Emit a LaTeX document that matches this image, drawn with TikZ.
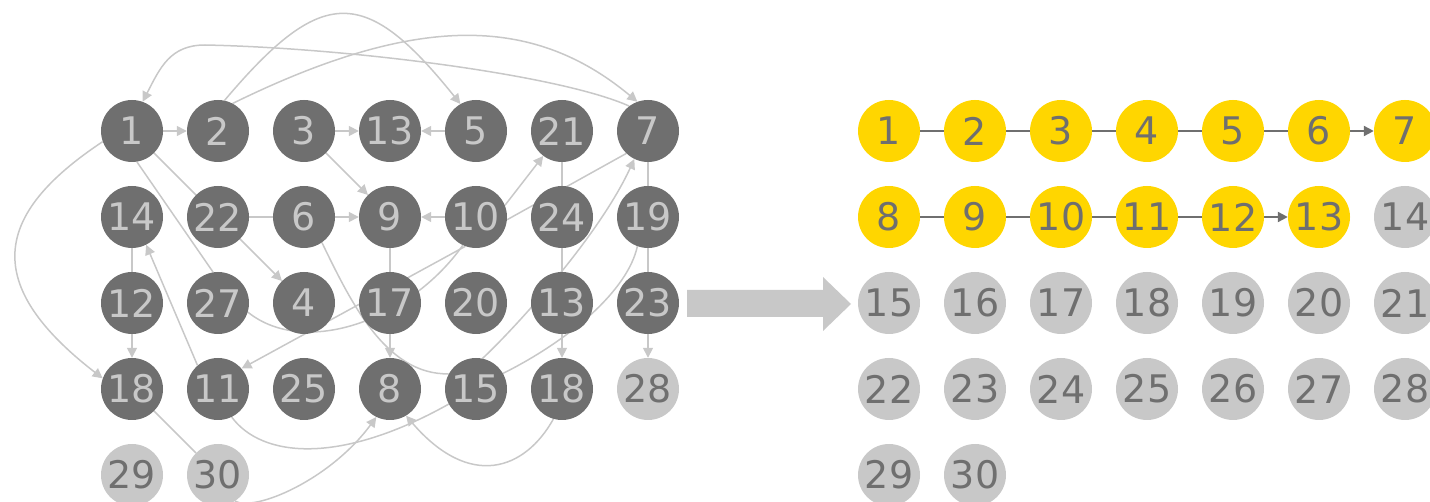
\documentclass[tikz,border=0pt]{standalone}
\usepackage{fontspec}
\setmainfont{DejaVu Sans}
\usetikzlibrary{arrows.meta,backgrounds}
\definecolor{dg}{HTML}{6F6F6F}
\definecolor{lg}{HTML}{C8C8C8}
\definecolor{yl}{HTML}{FFD600}
\begin{document}
\begin{tikzpicture}[x=1pt,y=-1pt,
  nd/.style={circle,minimum size=62pt,inner sep=0pt,font=\fontsize{38}{38}\selectfont},
  dk/.style={nd,fill=dg,text=lg},
  lt/.style={nd,fill=lg,text=dg},
  yw/.style={nd,fill=yl,text=dg},
  ed/.style={draw=lg,line width=1.5pt},
  ar/.style={ed,-{Triangle[length=10pt,width=10pt]}},
  red/.style={draw=dg,line width=2.2pt},
  rar/.style={red,-{Triangle[length=10pt,width=10pt]}}]
\useasboundingbox (0,0) rectangle (1430,502);
\clip (0,0) rectangle (1430,502);
% ---------- left graph nodes ----------
\node[dk] (a1)  at (132,131) {1};
\node[dk] (a2)  at (218,131) {2};
\node[dk] (a3)  at (304,131) {3};
\node[dk] (a13) at (390,131) {13};
\node[dk] (a5)  at (476,131) {5};
\node[dk] (a21) at (562,131) {21};
\node[dk] (a7)  at (648,131) {7};
\node[dk] (a14) at (132,217) {14};
\node[dk] (a22) at (218,217) {22};
\node[dk] (a6)  at (304,217) {6};
\node[dk] (a9)  at (390,217) {9};
\node[dk] (a10) at (476,217) {10};
\node[dk] (a24) at (562,217) {24};
\node[dk] (a19) at (648,217) {19};
\node[dk] (a12) at (132,303) {12};
\node[dk] (a27) at (218,303) {27};
\node[dk] (a4)  at (304,303) {4};
\node[dk] (a17) at (390,303) {17};
\node[dk] (a20) at (476,303) {20};
\node[dk] (a13b) at (562,303) {13};
\node[dk] (a23) at (648,303) {23};
\node[dk] (a18) at (132,389) {18};
\node[dk] (a11) at (218,389) {11};
\node[dk] (a25) at (304,389) {25};
\node[dk] (a8)  at (390,389) {8};
\node[dk] (a15) at (476,389) {15};
\node[dk] (a18b) at (562,389) {18};
\node[lt] (a28) at (648,389) {28};
\node[lt] (a29) at (132,475) {29};
\node[lt] (a30) at (218,475) {30};
% ---------- left graph edges ----------
\begin{scope}[on background layer]
\draw[ar] (a1) -- (a2);
\draw[ar] (a3) -- (a13);
\draw[ar] (a5) -- (a13);
\draw[ar] (a2.78) .. controls (322,-15) and (365,-15) .. (a5.120);
\draw[ar] (a2.62) .. controls (415,14) and (532,14) .. (a7.110);
\draw[ar] (a7.127) .. controls (560,75) and (350,48) .. (205,45) .. controls (170,45) and (160,68) .. (a1.70);
\draw[ar] (a1.200) .. controls (-8,215) and (-18,285) .. (a18.160);
\draw[ed] (a1) -- (a22);
\draw[ed] (a1.279) -- (a27.99);
\draw[ar] (a3) -- (a9);
\draw[ar] (a6) -- (a9);
\draw[ar] (a10) -- (a9);
\draw[ed] (a22) -- (a6);
\draw[ar] (a22) -- (a4);
\draw[ar] (a10.22) -- (a21.233);
\draw[ed] (a21) -- (a24);
\draw[ed] (a7.226) -- (a10.355);
\draw[ed] (a7) -- (a19);
\draw[ed] (a24) -- (a13b);
\draw[ed] (a19) -- (a23);
\draw[ar] (a15.78) .. controls (513,330) and (598,238) .. (a7.244);
\draw[ed] (a19.250) .. controls (628,290) and (570,340) .. (a15.30);
\draw[ar] (a10.250) -- (a11.41);
\draw[ed] (a10.245) .. controls (410,320) and (305,358) .. (a27.343);
\draw[ed] (a6.305) .. controls (350,300) and (385,375) .. (a15.151);
\draw[ed] (a9) -- (a17);
\draw[ar] (a17) -- (a8);
\draw[ar] (a13b) -- (a18b);
\draw[ar] (a23) -- (a28);
\draw[ed] (a14) -- (a12);
\draw[ar] (a12) -- (a18);
\draw[ar] (a11.131) -- (a14.297);
\draw[ar] (a18b.254) .. controls (525,470) and (470,490) .. (a8.301);
\draw[ed] (a11.296) .. controls (262,458) and (340,465) .. (a15.209);
\draw[ed] (a18) -- (a30);
\draw[ar] (a30.303) .. controls (255,512) and (330,480) .. (a8.244);
\end{scope}
% ---------- big arrow ----------
\fill[lg] (687,290) -- (823,290) -- (823,277) -- (851,304) -- (823,331) -- (823,317) -- (687,317) -- cycle;
% ---------- right side ----------
\node[yw] (b1) at (889,131) {1};
\node[yw] (b2) at (975,131) {2};
\node[yw] (b3) at (1061,131) {3};
\node[yw] (b4) at (1147,131) {4};
\node[yw] (b5) at (1233,131) {5};
\node[yw] (b6) at (1319,131) {6};
\node[yw] (b7) at (1405,131) {7};
\node[yw] (b8) at (889,217) {8};
\node[yw] (b9) at (975,217) {9};
\node[yw] (b10) at (1061,217) {10};
\node[yw] (b11) at (1147,217) {11};
\node[yw] (b12) at (1233,217) {12};
\node[yw] (b13) at (1319,217) {13};
\node[lt] (b14) at (1405,217) {14};
\node[lt] (b15) at (889,303) {15};
\node[lt] (b16) at (975,303) {16};
\node[lt] (b17) at (1061,303) {17};
\node[lt] (b18) at (1147,303) {18};
\node[lt] (b19) at (1233,303) {19};
\node[lt] (b20) at (1319,303) {20};
\node[lt] (b21) at (1405,303) {21};
\node[lt] (b22) at (889,389) {22};
\node[lt] (b23) at (975,389) {23};
\node[lt] (b24) at (1061,389) {24};
\node[lt] (b25) at (1147,389) {25};
\node[lt] (b26) at (1233,389) {26};
\node[lt] (b27) at (1319,389) {27};
\node[lt] (b28) at (1405,389) {28};
\node[lt] (b29) at (889,475) {29};
\node[lt] (b30) at (975,475) {30};
\begin{scope}[on background layer]
\draw[red] (b1) -- (b2);
\draw[red] (b2) -- (b3);
\draw[red] (b3) -- (b4);
\draw[red] (b4) -- (b5);
\draw[red] (b5) -- (b6);
\draw[rar] (b6) -- (b7);
\draw[red] (b8) -- (b9);
\draw[red] (b9) -- (b10);
\draw[red] (b10) -- (b11);
\draw[red] (b11) -- (b12);
\draw[rar] (b12) -- (b13);
\end{scope}
\end{tikzpicture}
\end{document}
